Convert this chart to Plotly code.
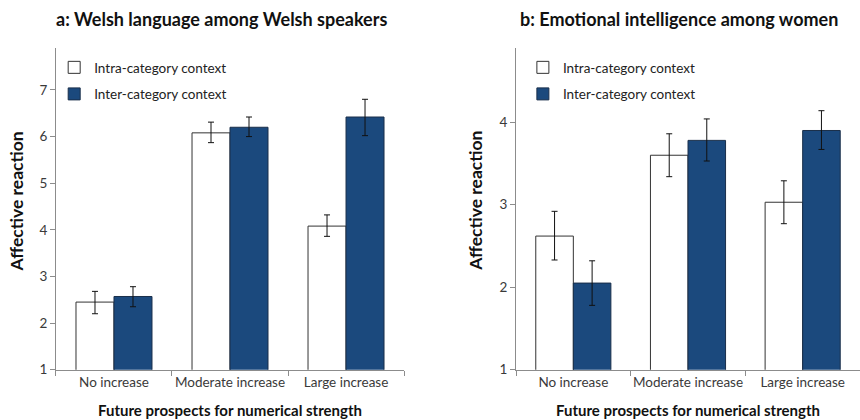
import plotly.graph_objects as go

categories = ["No increase", "Moderate increase", "Large increase"]

# Panel a: Welsh language among Welsh speakers
a_intra = [2.45, 6.08, 4.08]
a_intra_up = [0.23, 0.23, 0.24]
a_intra_down = [0.25, 0.21, 0.22]
a_inter = [2.57, 6.20, 6.42]
a_inter_up = [0.21, 0.22, 0.38]
a_inter_down = [0.22, 0.20, 0.40]

# Panel b: Emotional intelligence among women
b_intra = [2.62, 3.60, 3.03]
b_intra_up = [0.30, 0.26, 0.26]
b_intra_down = [0.29, 0.26, 0.26]
b_inter = [2.05, 3.78, 3.90]
b_inter_up = [0.27, 0.26, 0.24]
b_inter_down = [0.27, 0.25, 0.23]

series_names = ["Intra-category context", "Inter-category context"]
titles = ["<b>a: Welsh language among Welsh speakers</b>",
          "<b>b: Emotional intelligence among women</b>"]
y_title = "Affective reaction"
x_title = "Future prospects for numerical strength"

BLUE = "#1B497D"
FONT = "Lato"
TICKC = "#3a3a3a"
AXC = "#8c8c8c"

fig = go.Figure()

def add_pair(intra, iu, idn, inter, eu, edn, xa, ya, leg):
    fig.add_trace(go.Bar(
        x=categories, y=intra, name=series_names[0], xaxis=xa, yaxis=ya,
        marker=dict(color="white", line=dict(color="#333333", width=1)),
        error_y=dict(type="data", symmetric=False, array=iu, arrayminus=idn,
                     color="#111111", thickness=1, width=3),
        legend=leg, legendgroup=leg + "a", showlegend=True, hoverinfo="skip"))
    fig.add_trace(go.Bar(
        x=categories, y=inter, name=series_names[1], xaxis=xa, yaxis=ya,
        marker=dict(color=BLUE, line=dict(color="#1a2f4a", width=1)),
        error_y=dict(type="data", symmetric=False, array=eu, arrayminus=edn,
                     color="#111111", thickness=1, width=3),
        legend=leg, legendgroup=leg + "b", showlegend=True, hoverinfo="skip"))

add_pair(a_intra, a_intra_up, a_intra_down, a_inter, a_inter_up, a_inter_down, "x", "y", "legend")
add_pair(b_intra, b_intra_up, b_intra_down, b_inter, b_inter_up, b_inter_down, "x2", "y2", "legend2")

xax = dict(showline=True, linecolor=AXC, linewidth=1, ticks="outside", tickson="boundaries",
           ticklen=5, tickcolor=AXC, tickangle=0, automargin=False,
           tickfont=dict(family=FONT, size=13.5, color=TICKC),
           showgrid=False, zeroline=False, fixedrange=True)
yax = dict(showline=True, linecolor=AXC, linewidth=1, ticks="outside", ticklen=5,
           tickcolor=AXC, automargin=False, tickfont=dict(family=FONT, size=13.5, color=TICKC),
           showgrid=False, zeroline=False, dtick=1, tick0=1, fixedrange=True)

leg = dict(font=dict(family=FONT, size=13.5, color="#222222"), bgcolor="rgba(0,0,0,0)",
           xanchor="left", yanchor="top", tracegroupgap=6, itemwidth=30,
           traceorder="grouped")

fig.update_layout(
    width=860, height=420,
    margin=dict(l=0, r=0, t=0, b=0),
    paper_bgcolor="white", plot_bgcolor="white",
    barmode="group", bargap=0.345, bargroupgap=0,
    font=dict(family=FONT),
    xaxis=dict(domain=[0.0651, 0.4698], anchor="y", **xax),
    yaxis=dict(domain=[0.1198, 0.8857], anchor="x", range=[1, 7.9], **yax),
    xaxis2=dict(domain=[0.6, 1.0], anchor="y2", **xax),
    yaxis2=dict(domain=[0.1198, 0.8857], anchor="x2", range=[1, 4.9], **yax),
    legend=dict(x=0.063, y=0.876, **leg),
    legend2=dict(x=0.608, y=0.876, **leg),
    annotations=[
        dict(text=titles[0], x=0.258, y=0.955, xref="paper", yref="paper", showarrow=False,
             xanchor="center", yanchor="middle",
             font=dict(family=FONT, size=18, color="#111111")),
        dict(text=titles[1], x=0.79, y=0.955, xref="paper", yref="paper", showarrow=False,
             xanchor="center", yanchor="middle",
             font=dict(family=FONT, size=18, color="#111111")),
        dict(text="<b>" + y_title + "</b>", x=0.019, y=0.521, xref="paper", yref="paper",
             xanchor="center", yanchor="middle",
             textangle=-90, showarrow=False, font=dict(family=FONT, size=17.5, color="#111111")),
        dict(text="<b>" + y_title + "</b>", x=0.553, y=0.521, xref="paper", yref="paper",
             xanchor="center", yanchor="middle",
             textangle=-90, showarrow=False, font=dict(family=FONT, size=17.5, color="#111111")),
        dict(text="<b>" + x_title + "</b>", x=0.267, y=0.023, xref="paper", yref="paper",
             xanchor="center", yanchor="middle",
             showarrow=False, font=dict(family=FONT, size=15, color="#111111")),
        dict(text="<b>" + x_title + "</b>", x=0.8, y=0.023, xref="paper", yref="paper",
             xanchor="center", yanchor="middle",
             showarrow=False, font=dict(family=FONT, size=15, color="#111111")),
    ],
)

fig.write_html("out.html", config={"displayModeBar": False},
               post_script="document.body.style.margin='0';document.body.style.overflow='hidden';")
